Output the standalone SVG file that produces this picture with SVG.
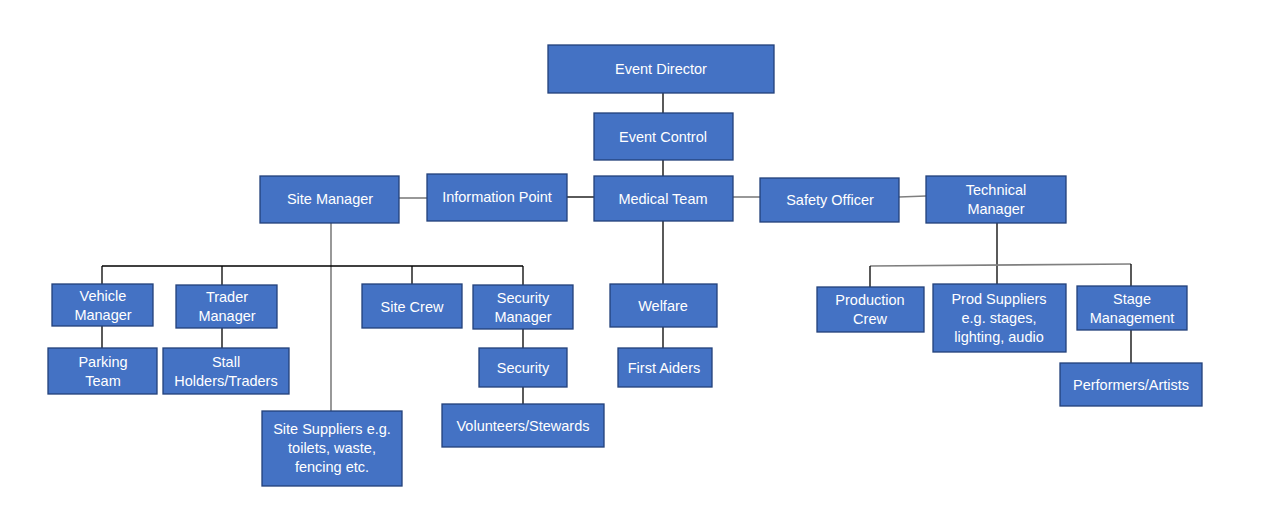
<svg xmlns="http://www.w3.org/2000/svg" width="1280" height="508" viewBox="0 0 1280 508">
<style>
.n rect{fill:#4472C4;stroke:#23407A;stroke-width:1.3}
.n text{fill:#fff;font-family:"Liberation Sans",Arial,sans-serif;font-size:14.5px;text-anchor:middle}
.c line{stroke:#000;stroke-width:1.3}
.c line.g{stroke:#7f7f7f;stroke-width:1.6}
</style>
<rect width="1280" height="508" fill="#fff"/>
<g class="c">
<line x1="663" y1="93" x2="663" y2="113"/>
<line x1="663" y1="160" x2="663" y2="176"/>
<line class="g" x1="399" y1="198" x2="427" y2="198"/>
<line x1="567" y1="197" x2="594" y2="197"/>
<line class="g" x1="733" y1="197" x2="760" y2="197"/>
<line class="g" x1="899" y1="197" x2="926" y2="196"/>
<line class="g" x1="331" y1="223" x2="331" y2="411"/>
<line x1="102" y1="266" x2="523" y2="266"/>
<line x1="102" y1="266" x2="102" y2="284"/>
<line x1="222" y1="266" x2="222" y2="285"/>
<line x1="412" y1="266" x2="412" y2="284"/>
<line x1="523" y1="266" x2="523" y2="285"/>
<line x1="102" y1="326" x2="102" y2="348"/>
<line x1="222" y1="328" x2="222" y2="348"/>
<line x1="523" y1="329" x2="523" y2="348"/>
<line x1="523" y1="387" x2="523" y2="404"/>
<line x1="663" y1="221" x2="663" y2="284"/>
<line x1="663" y1="327" x2="663" y2="348"/>
<line x1="997" y1="223" x2="997" y2="284"/>
<line class="g" x1="870" y1="266" x2="1131" y2="264"/>
<line x1="870" y1="266" x2="870" y2="287"/>
<line x1="1131" y1="264" x2="1131" y2="286"/>
<line x1="1131" y1="330" x2="1131" y2="363"/>
</g>
<g id="event-director" class="n"><rect x="548" y="45" width="226" height="48"/><text x="661" y="74">Event Director</text></g>
<g id="event-control" class="n"><rect x="594" y="113" width="139" height="47"/><text x="663" y="142">Event Control</text></g>
<g id="site-manager" class="n"><rect x="260" y="176" width="139" height="47"/><text x="330" y="204">Site Manager</text></g>
<g id="information-point" class="n"><rect x="427" y="174" width="140" height="47"/><text x="497" y="202">Information  Point</text></g>
<g id="medical-team" class="n"><rect x="594" y="176" width="139" height="45"/><text x="663" y="204">Medical Team</text></g>
<g id="safety-officer" class="n"><rect x="760" y="178" width="139" height="44"/><text x="830" y="205">Safety Officer</text></g>
<g id="technical-manager" class="n"><rect x="926" y="176" width="140" height="47"/><text x="996" y="195">Technical</text><text x="996" y="214">Manager</text></g>
<g id="vehicle-manager" class="n"><rect x="52" y="284" width="101" height="42"/><text x="103" y="301">Vehicle</text><text x="103" y="320">Manager</text></g>
<g id="trader-manager" class="n"><rect x="176" y="285" width="101" height="43"/><text x="227" y="302">Trader</text><text x="227" y="321">Manager</text></g>
<g id="site-crew" class="n"><rect x="362" y="284" width="100" height="44"/><text x="412" y="312">Site Crew</text></g>
<g id="security-manager" class="n"><rect x="473" y="285" width="100" height="44"/><text x="523" y="303">Security</text><text x="523" y="322">Manager</text></g>
<g id="parking-team" class="n"><rect x="48" y="348" width="109" height="46"/><text x="103" y="367">Parking</text><text x="103" y="386">Team</text></g>
<g id="stall-holders" class="n"><rect x="163" y="348" width="126" height="46"/><text x="226" y="367">Stall</text><text x="226" y="386">Holders/Traders</text></g>
<g id="security" class="n"><rect x="479" y="348" width="88" height="39"/><text x="523" y="373">Security</text></g>
<g id="volunteers" class="n"><rect x="442" y="404" width="162" height="43"/><text x="523" y="431">Volunteers/Stewards</text></g>
<g id="site-suppliers" class="n"><rect x="262" y="411" width="140" height="75"/><text x="332" y="434">Site Suppliers e.g.</text><text x="332" y="453">toilets, waste,</text><text x="332" y="472">fencing etc.</text></g>
<g id="welfare" class="n"><rect x="610" y="284" width="107" height="43"/><text x="663" y="311">Welfare</text></g>
<g id="first-aiders" class="n"><rect x="618" y="348" width="94" height="39"/><text x="664" y="373">First Aiders</text></g>
<g id="production-crew" class="n"><rect x="817" y="287" width="107" height="45"/><text x="870" y="305">Production</text><text x="870" y="324">Crew</text></g>
<g id="prod-suppliers" class="n"><rect x="933" y="284" width="133" height="68"/><text x="999" y="304">Prod Suppliers</text><text x="999" y="323">e.g. stages,</text><text x="999" y="342">lighting, audio</text></g>
<g id="stage-management" class="n"><rect x="1077" y="286" width="110" height="44"/><text x="1132" y="304">Stage</text><text x="1132" y="323">Management</text></g>
<g id="performers" class="n"><rect x="1060" y="363" width="142" height="43"/><text x="1131" y="390">Performers/Artists</text></g>
</svg>
